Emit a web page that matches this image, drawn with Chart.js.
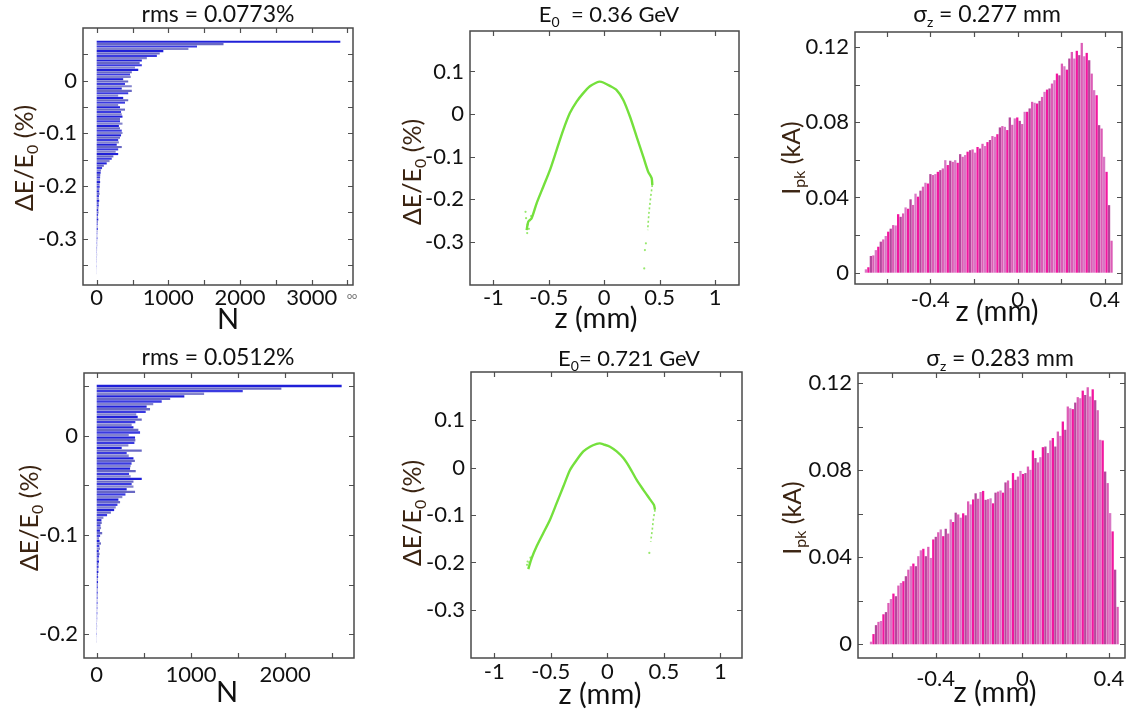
<!DOCTYPE html>
<html>
<head>
<meta charset="utf-8">
<script src="https://cdn.jsdelivr.net/npm/chart.js@4.4.1/dist/chart.umd.min.js"></script>
<style>
  html, body { margin: 0; padding: 0; background: #fff; overflow: hidden; width: 1128px; height: 713px; }
  .pane { position: absolute; }
  .pane canvas { display: block; }
</style>
</head>
<body>
<script>
// ---------- energy-spread histograms (counts per bin, highest-energy bin first) ----------
const specTopRange = [-0.3680, 0.0760];     // bin edges, ΔE/E0 (%)
const specTopCounts = [
  3400,1770,1400,1280,930,880,840,700,630,600,
  630,535,580,490,465,475,370,440,395,490,
  350,490,440,300,370,440,395,300,325,395,
  340,350,360,325,325,360,310,325,350,360,
  340,325,300,310,280,350,300,265,300,233,
  210,180,140,100,75,60,55,50,48,45,
  48,40,42,38,35,40,32,30,35,28,
  30,25,22,26,20,18,22,15,14,12,
  15,10,9,8,10,7,6,8,5,5,
  4,6,3,4,3,2,3,2,1,2
];

const specBotRange = [-0.2087, 0.0513];
const specBotCounts = [
  2600,1960,1550,1140,930,780,690,600,530,566,
  520,420,435,478,410,371,390,442,460,340,
  407,410,400,336,265,478,318,340,390,405,
  370,360,354,414,343,360,478,390,371,390,
  318,407,305,272,230,248,220,202,185,150,
  110,71,50,53,40,46,34,58,36,25,
  30,45,28,35,22,30,25,20,24,18,
  20,16,18,14,15,12,14,10,12,9,
  10,8,9,7,8,6,7,5,6,4,
  5,4,3,4,3,2,3,2,1,2
];

// ---------- current profiles (kA per bin, head at negative z first) ----------
const profTopRange = [-0.7007, 0.4367];     // bin edges, z (mm)
const profTopCurrent = [
  0.0018,0.0029,0.0089,0.0092,0.0120,0.0138,0.0165,0.0177,0.0195,0.0218,
  0.0234,0.0253,0.0251,0.0311,0.0297,0.0315,0.0347,0.0340,0.0390,0.0360,
  0.0420,0.0404,0.0436,0.0457,0.0478,0.0474,0.0524,0.0519,0.0524,0.0536,
  0.0545,0.0554,0.0598,0.0572,0.0595,0.0589,0.0598,0.0584,0.0630,0.0616,
  0.0625,0.0643,0.0651,0.0655,0.0638,0.0668,0.0660,0.0685,0.0673,0.0694,
  0.0705,0.0726,0.0722,0.0736,0.0772,0.0779,0.0775,0.0758,0.0825,0.0786,
  0.0820,0.0825,0.0807,0.0790,0.0855,0.0855,0.0873,0.0908,0.0903,0.0899,
  0.0913,0.0934,0.0961,0.0973,0.0979,0.1005,0.1023,0.1058,0.1049,0.1111,
  0.1097,0.1079,0.1138,0.1173,0.1138,0.1179,0.1156,0.1221,0.1150,0.1168,
  0.1129,0.1058,0.0970,0.0943,0.0784,0.0766,0.0616,0.0536,0.0359,0.0170
];

const profBotRange = [-0.7037, 0.4457];
const profBotCurrent = [
  0.0012,0.0047,0.0088,0.0103,0.0107,0.0138,0.0148,0.0190,0.0208,0.0233,
  0.0221,0.0270,0.0282,0.0290,0.0313,0.0343,0.0359,0.0371,0.0359,0.0405,
  0.0432,0.0439,0.0405,0.0448,0.0397,0.0482,0.0494,0.0515,0.0528,0.0497,
  0.0531,0.0509,0.0574,0.0562,0.0605,0.0597,0.0582,0.0602,0.0593,0.0657,
  0.0643,0.0666,0.0694,0.0669,0.0700,0.0705,0.0664,0.0667,0.0671,0.0648,
  0.0697,0.0702,0.0707,0.0697,0.0744,0.0753,0.0718,0.0787,0.0756,0.0771,
  0.0797,0.0783,0.0787,0.0817,0.0802,0.0891,0.0856,0.0836,0.0860,0.0906,
  0.0909,0.0879,0.0937,0.0948,0.0909,0.0978,0.0958,0.1024,0.0986,0.1093,
  0.1085,0.1081,0.1111,0.1136,0.1131,0.1166,0.1146,0.1181,0.1139,0.1172,
  0.1122,0.1076,0.0940,0.0937,0.0794,0.0741,0.0603,0.0519,0.0343,0.0172
];

// ---------- longitudinal phase space traces, z (mm) vs ΔE/E0 (%) ----------
const psTopZ  = [-0.700,-0.685,-0.655,-0.610,-0.550,-0.490,-0.430,-0.370,-0.310,-0.249,
                 -0.189,-0.129,-0.069,-0.040,-0.009,0.051,0.112,0.172,0.232,0.292,
                 0.352,0.397,0.428,0.434];
const psTopDE = [-0.273,-0.253,-0.245,-0.210,-0.171,-0.132,-0.085,-0.038,0.002,0.029,
                 0.049,0.065,0.074,0.076,0.074,0.066,0.056,0.033,-0.006,-0.053,
                 -0.100,-0.136,-0.151,-0.167];
const psTopTailZ  = [0.434,0.419,0.403,0.392];
const psTopTailDE = [-0.167,-0.195,-0.234,-0.273];
const psTopDotsZ  = [-0.710,-0.705,-0.690,-0.680,-0.695,-0.670,-0.660,0.376,0.367,0.361];
const psTopDotsDE = [-0.230,-0.245,-0.260,-0.270,-0.280,-0.250,-0.240,-0.304,-0.320,-0.363];

const psBotZ  = [-0.699,-0.669,-0.625,-0.566,-0.507,-0.448,-0.389,-0.330,-0.271,-0.212,
                 -0.153,-0.094,-0.065,-0.035,0.024,0.083,0.142,0.201,0.260,0.319,
                 0.378,0.413,0.422];
const psBotDE = [-0.214,-0.191,-0.166,-0.138,-0.110,-0.075,-0.040,-0.005,0.016,0.034,
                 0.044,0.050,0.051,0.049,0.044,0.034,0.020,-0.001,-0.026,-0.047,
                 -0.067,-0.079,-0.089];
const psBotTailZ  = [0.422,0.407,0.398,0.384];
const psBotTailDE = [-0.089,-0.110,-0.131,-0.156];
const psBotDotsZ  = [-0.705,-0.710,-0.695,-0.690,-0.680,0.372];
const psBotDotsDE = [-0.198,-0.205,-0.210,-0.200,-0.190,-0.180];

// ---------- axis ticks (positions) and the subset that carries a label ----------
const nTicksTop   = [0, 500, 1000, 1500, 2000, 2500, 3000, 3500];
const nLabelsTop  = [0, 1000, 2000, 3000];
const nTicksBot   = [0, 500, 1000, 1500, 2000, 2500];
const nLabelsBot  = [0, 1000, 2000];
const dETicksTop  = [-0.35, -0.3, -0.25, -0.2, -0.15, -0.1, -0.05, 0, 0.05];
const dELabelsTop = [-0.3, -0.2, -0.1, 0];
const dETicksBot  = [-0.2, -0.15, -0.1, -0.05, 0, 0.05];
const dELabelsBot = [-0.2, -0.1, 0];
const zTicksPs    = [-1, -0.5, 0, 0.5, 1];
const dETicksPs   = [-0.3, -0.2, -0.1, 0, 0.1];
const zTicksProf  = [-0.6, -0.4, -0.2, 0, 0.2, 0.4];
const zLabelsProf = [-0.4, 0, 0.4];
const iTicksProf  = [0, 0.02, 0.04, 0.06, 0.08, 0.1, 0.12];
const iLabelsProf = [0, 0.04, 0.08, 0.12];

// ---------- helpers ----------
const zip = (a, b) => a.map((v, i) => ({ x: v, y: b[i] }));
const fmt = v => String(Math.round(v * 1e6) / 1e6);
const hasLabel = (list, v) => list.some(l => Math.abs(l - v) < 1e-9);

// bin centres of a histogram with the given outer edges
function binCentres(range, n, fromTop) {
  const w = (range[1] - range[0]) / n;
  return Array.from({ length: n }, (_, i) =>
    fromTop ? range[1] - (i + 0.5) * w : range[0] + (i + 0.5) * w);
}

// box frame with inward ticks on all four sides
const framePlugin = {
  id: 'frame',
  afterDatasetsDraw(chart) {
    const { ctx, chartArea: a, scales } = chart;
    const L = 5;
    ctx.save();
    ctx.strokeStyle = '#505050';
    ctx.lineWidth = 1.2;
    ctx.beginPath();
    for (const t of scales.x.ticks) {
      const p = Math.round(scales.x.getPixelForValue(t.value)) + 0.5;
      if (p < a.left + 2 || p > a.right - 2) continue;
      ctx.moveTo(p, a.bottom); ctx.lineTo(p, a.bottom - L);
      ctx.moveTo(p, a.top);    ctx.lineTo(p, a.top + L);
    }
    for (const t of scales.y.ticks) {
      const p = Math.round(scales.y.getPixelForValue(t.value)) + 0.5;
      if (p < a.top + 2 || p > a.bottom - 2) continue;
      ctx.moveTo(a.left, p);  ctx.lineTo(a.left + L, p);
      ctx.moveTo(a.right, p); ctx.lineTo(a.right - L, p);
    }
    ctx.stroke();
    ctx.lineWidth = 1.5;
    ctx.strokeStyle = '#4a4a4a';
    ctx.strokeRect(a.left, a.top, a.right - a.left, a.bottom - a.top);
    ctx.restore();
  }
};

// titles and axis names with subscripts, given in page coordinates
function textPlugin(items, ox, oy) {
  return {
    id: 'richText',
    afterDraw(chart) {
      const ctx = chart.ctx;
      for (const it of items) {
        ctx.save();
        ctx.translate(it.x - ox, it.y - oy);
        if (it.rot) ctx.rotate(-Math.PI / 2);
        ctx.fillStyle = it.color || '#111';
        ctx.textBaseline = 'middle';
        ctx.textAlign = 'left';
        const fonts = it.parts.map(p =>
          (p.sub ? Math.round(it.size * 0.62) : it.size) + 'px Lato, "Noto Sans", sans-serif');
        let total = 0;
        const widths = it.parts.map((p, i) => {
          ctx.font = fonts[i];
          const w = ctx.measureText(p.t).width;
          total += w;
          return w;
        });
        let cx = -total / 2;
        it.parts.forEach((p, i) => {
          ctx.font = fonts[i];
          ctx.fillText(p.t, cx, p.sub ? it.size * 0.32 : 0);
          cx += widths[i];
        });
        ctx.restore();
      }
    }
  };
}

const T = t => ({ t });
const S = t => ({ t, sub: true });
const yTitleColor = '#3b2412';
const dETitle = [T('\u0394E/E'), S('0'), T(' (%)')];
const ipkTitle = [T('I'), S('pk'), T(' (kA)')];

const tickFont = { family: 'Lato', size: 22 };

function axis(min, max, ticks, labels, pad) {
  return {
    type: 'linear', min, max, offset: false,
    grid: { display: false, drawTicks: false }, border: { display: false },
    afterBuildTicks: s => { s.ticks = ticks.map(v => ({ value: v })); },
    ticks: {
      autoSkip: false, maxRotation: 0, minRotation: 0,
      font: tickFont, color: '#111', padding: pad,
      callback: v => (hasLabel(labels, v) ? fmt(v) : '')
    }
  };
}

function panel(box, type, datasets, xAx, yAx, texts, extra) {
  const yW = 90, xH = 62, pT = 34, pR = 20;
  const w = box.r - box.l, h = box.b - box.t;
  const left = box.l - yW, top = box.t - pT;
  const div = document.createElement('div');
  div.className = 'pane';
  div.style.left = left + 'px';
  div.style.top = top + 'px';
  const cv = document.createElement('canvas');
  cv.width = w + yW + pR; cv.height = h + pT + xH;
  cv.style.width = cv.width + 'px'; cv.style.height = cv.height + 'px';
  div.appendChild(cv);
  document.body.appendChild(div);
  xAx.afterFit = s => { s.height = xH; };
  yAx.afterFit = s => { s.width = yW; };
  new Chart(cv, {
    type,
    data: { datasets },
    options: Object.assign({
      responsive: false, animation: false, devicePixelRatio: 1,
      layout: { padding: { left: 0, top: pT, right: pR, bottom: 0 } },
      plugins: { legend: { display: false }, title: { display: false }, tooltip: { enabled: false } },
      scales: { x: xAx, y: yAx }
    }, extra || {}),
    plugins: [framePlugin, textPlugin(texts, left, top)]
  });
}

// ---------- energy spectra (horizontal histograms) ----------
const blues = ['#2020d8', '#6868c4', '#3a3ae0', '#8282cc'];
function spectrum(box, range, counts, xr, yr, xt, xl, yt, yl, xPad, texts) {
  const c = binCentres(range, counts.length, true);
  panel(box, 'bar',
    [{ data: counts.map((n, i) => ({ x: n, y: c[i] })),
       backgroundColor: ctx => blues[ctx.dataIndex % 4],
       barPercentage: 0.9, categoryPercentage: 1, borderWidth: 0 }],
    axis(xr[0], xr[1], xt, xl, xPad),
    axis(yr[0], yr[1], yt, yl, 6),
    texts, { indexAxis: 'y' });
}
spectrum({ l: 83, t: 28, r: 353, b: 285 }, specTopRange, specTopCounts, [-191, 3577], [-0.388, 0.1],
  nTicksTop, nLabelsTop, dETicksTop, dELabelsTop, 0, [
    { x: 218, y: 15, size: 23, parts: [T('rms = 0.0773%')] },
    { x: 228, y: 320, size: 29, parts: [T('N')] },
    { x: 25, y: 158, size: 25, rot: true, color: yTitleColor, parts: dETitle },
    { x: 352, y: 296, size: 9, color: '#666', parts: [T('oo')] }
  ]);
spectrum({ l: 84, t: 373, r: 354, b: 658 }, specBotRange, specBotCounts, [-135, 2731], [-0.2239, 0.0631],
  nTicksBot, nLabelsBot, dETicksBot, dELabelsBot, 4, [
    { x: 218, y: 358, size: 23, parts: [T('rms = 0.0512%')] },
    { x: 227, y: 693, size: 29, parts: [T('N')] },
    { x: 30, y: 518, size: 25, rot: true, color: yTitleColor, parts: dETitle }
  ]);

// ---------- phase space ----------
const green = '#74e03c';
function phase(box, zs, ds, tz, td, dz, dd, xr, yr, xPad, texts) {
  panel(box, 'scatter', [
    { data: zip(zs, ds), showLine: true, borderColor: green, borderWidth: 2.4,
      pointRadius: 0, tension: 0.25, fill: false },
    { data: zip(tz, td), showLine: true, borderColor: 'rgba(116,224,60,0.8)', borderWidth: 1.6,
      borderDash: [2, 2.5], pointRadius: 0, fill: false },
    { data: zip(dz, dd), showLine: false, pointRadius: 1.1, pointBorderWidth: 0,
      pointBackgroundColor: 'rgba(116,224,60,0.75)' }
  ],
  axis(xr[0], xr[1], zTicksPs, zTicksPs, xPad),
  axis(yr[0], yr[1], dETicksPs, dETicksPs, 6),
  texts);
}
phase({ l: 470, t: 31, r: 739, b: 285 }, psTopZ, psTopDE, psTopTailZ, psTopTailDE, psTopDotsZ, psTopDotsDE,
  [-1.211, 1.216], [-0.402, 0.195], 0, [
    { x: 609, y: 15, size: 22, parts: [T('E'), S('0'), T('  = 0.36 GeV')] },
    { x: 596, y: 319, size: 29, parts: [T('z (mm)')] },
    { x: 413, y: 172, size: 25, rot: true, color: yTitleColor, parts: dETitle }
  ]);
phase({ l: 471, t: 372, r: 742, b: 658 }, psBotZ, psBotDE, psBotTailZ, psBotTailDE, psBotDotsZ, psBotDotsDE,
  [-1.206, 1.192], [-0.4015, 0.2015], 1, [
    { x: 629, y: 359, size: 22, parts: [T('E'), S('0'), T('= 0.721 GeV')] },
    { x: 600, y: 695, size: 29, parts: [T('z (mm)')] },
    { x: 413, y: 513, size: 25, rot: true, color: yTitleColor, parts: dETitle }
  ]);

// ---------- current profiles (vertical histograms) ----------
const pinks = ['#d877c4', '#f2169f', '#b4489c', '#dc5cb6'];
function profile(box, range, vals, xr, yr, xPad, texts) {
  const c = binCentres(range, vals.length, false);
  panel(box, 'bar',
    [{ data: vals.map((v, i) => ({ x: c[i], y: v })),
       backgroundColor: ctx => pinks[ctx.dataIndex % 4],
       barPercentage: 0.92, categoryPercentage: 1, borderWidth: 0 }],
    axis(xr[0], xr[1], zTicksProf, zLabelsProf, xPad),
    axis(yr[0], yr[1], iTicksProf, iLabelsProf, 6),
    texts);
}
profile({ l: 855, t: 32, r: 1122, b: 284 }, profTopRange, profTopCurrent, [-0.745, 0.479], [-0.006, 0.1279], 3, [
    { x: 987, y: 15, size: 23, parts: [T('\u03C3'), S('z'), T(' = 0.277 mm')] },
    { x: 997, y: 312, size: 29, parts: [T('z (mm)')] },
    { x: 792, y: 158, size: 25, rot: true, color: yTitleColor, parts: ipkTitle }
  ]);
profile({ l: 858, t: 373, r: 1125, b: 658 }, profBotRange, profBotCurrent, [-0.758, 0.474], [-0.0063, 0.1247], 8, [
    { x: 1000, y: 359, size: 23, parts: [T('\u03C3'), S('z'), T(' = 0.283 mm')] },
    { x: 995, y: 693, size: 29, parts: [T('z (mm)')] },
    { x: 793, y: 518, size: 25, rot: true, color: yTitleColor, parts: ipkTitle }
  ]);
</script>
</body>
</html>
